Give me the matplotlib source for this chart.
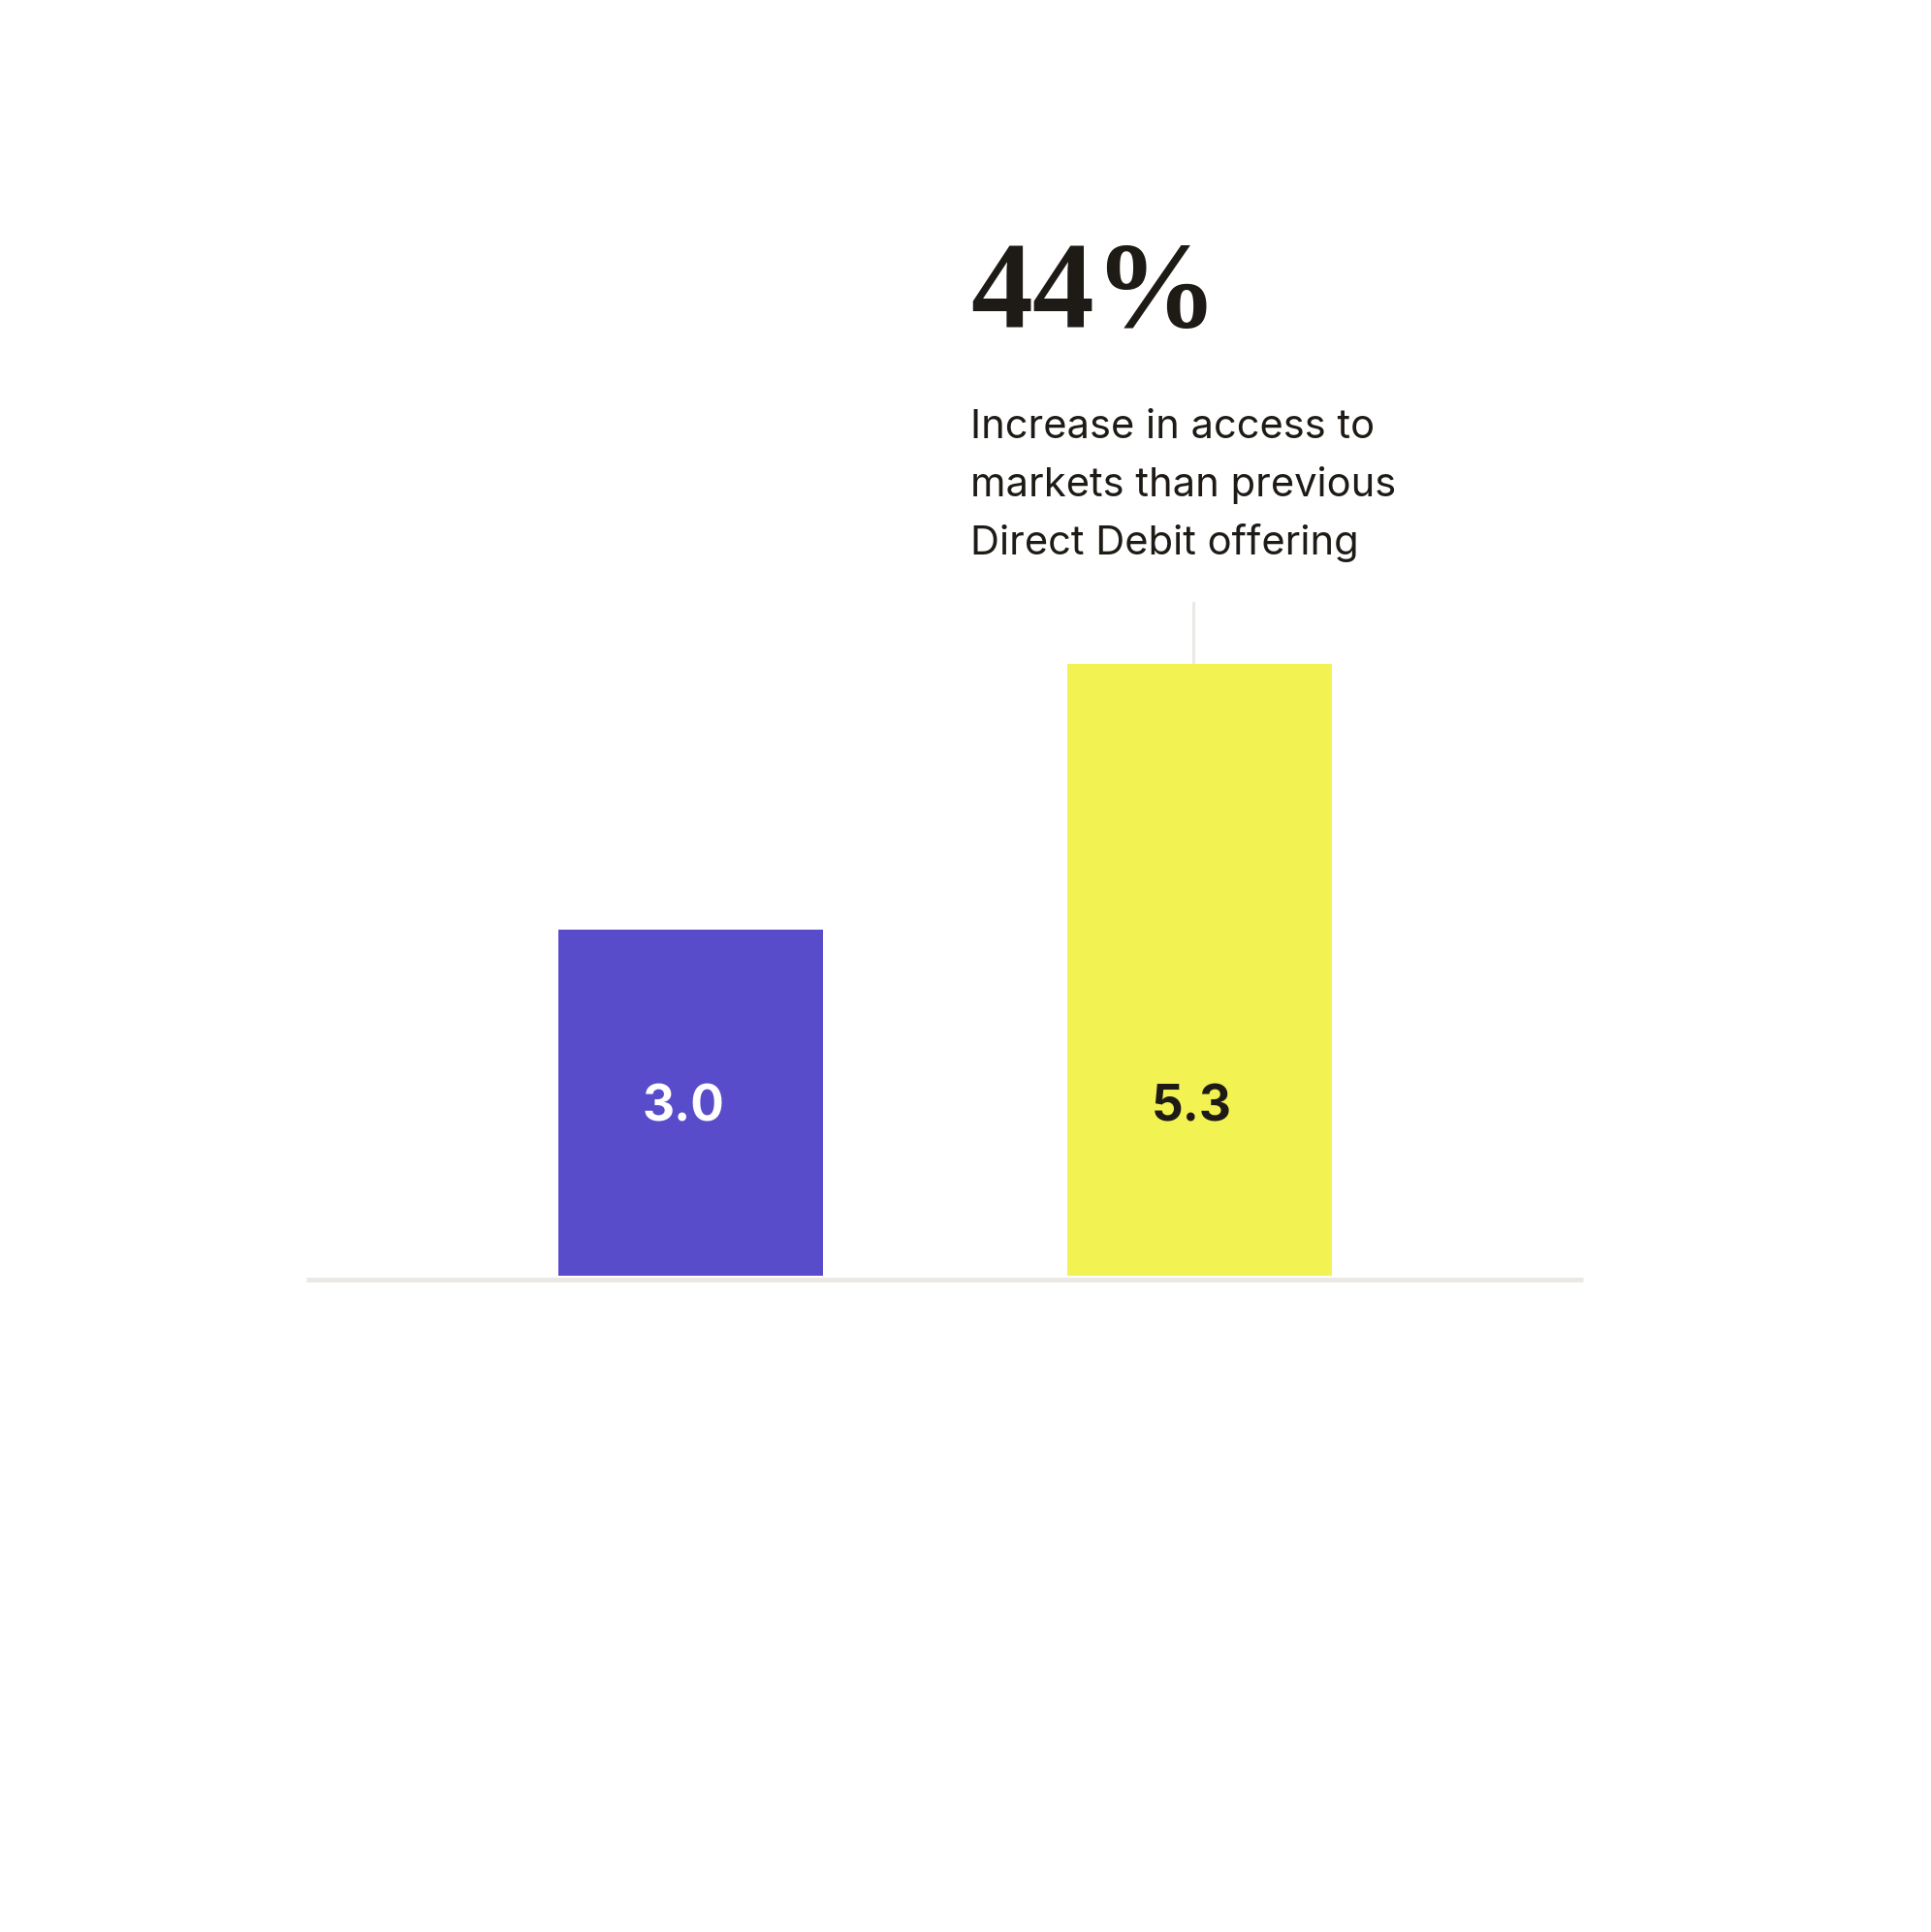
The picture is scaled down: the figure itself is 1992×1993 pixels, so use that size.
import matplotlib.pyplot as plt

# data
categories = ["Previous Direct Debit", "New offering"]
values = [3.0, 5.3]
value_labels = ["3.0", "5.3"]
bar_colors = ["#594CCB", "#F2F252"]
label_colors = ["#FFFFFF", "#1E1B16"]
headline = "44%"
caption_lines = ["Increase in access to", "markets than previous", "Direct Debit offering"]

W, H = 1992, 1993
DPI = 100
px_per_unit = 119.0      # vertical scale of the bars
baseline_px = 1316       # baseline, pixels from top
dark = "#1E1B16"
grey = "#ECE9E5"


def fx(px):
    return px / W


def fy(py):
    return (H - py) / H


fig = plt.figure(figsize=(W / DPI, H / DPI), dpi=DPI)
fig.patch.set_facecolor("white")

left_px, right_px = 316, 1633
ax = fig.add_axes([fx(left_px), fy(baseline_px), (right_px - left_px) / W, baseline_px / H])
ax.set_xlim(-0.755, 1.753)
ax.set_ylim(0, baseline_px / px_per_unit)
ax.axis("off")

x = list(range(len(categories)))
ax.bar(x, values, width=0.52, color=bar_colors, zorder=3)

# baseline rule just under the bars
off = 3.5 / px_per_unit
ax.plot([-0.755, 1.753], [-off, -off], color=grey, lw=3.6, solid_capstyle="butt",
        clip_on=False, zorder=2)

# value labels inside bars
for i, (lab, c) in enumerate(zip(value_labels, label_colors)):
    ax.text(i - 0.015, 1.5, lab, ha="center", va="center_baseline", color=c,
            fontsize=37, fontweight="bold", family="Inter", zorder=4)

# connector line above the tall bar
top = values[1]
ax.plot([0.988, 0.988], [top, top + 63 / px_per_unit], color=grey, lw=2.2,
        clip_on=False, zorder=2)

# headline and caption
fig.text(fx(1001), fy(337), headline, ha="left", va="baseline", color=dark,
         fontsize=92, fontweight="bold", family="Liberation Serif")
for k, line in enumerate(caption_lines):
    fig.text(fx(1001), fy(452 + 60 * k), line, ha="left", va="baseline", color=dark,
             fontsize=30, family="Inter")

fig.savefig("out.png", dpi=DPI, facecolor="white")
